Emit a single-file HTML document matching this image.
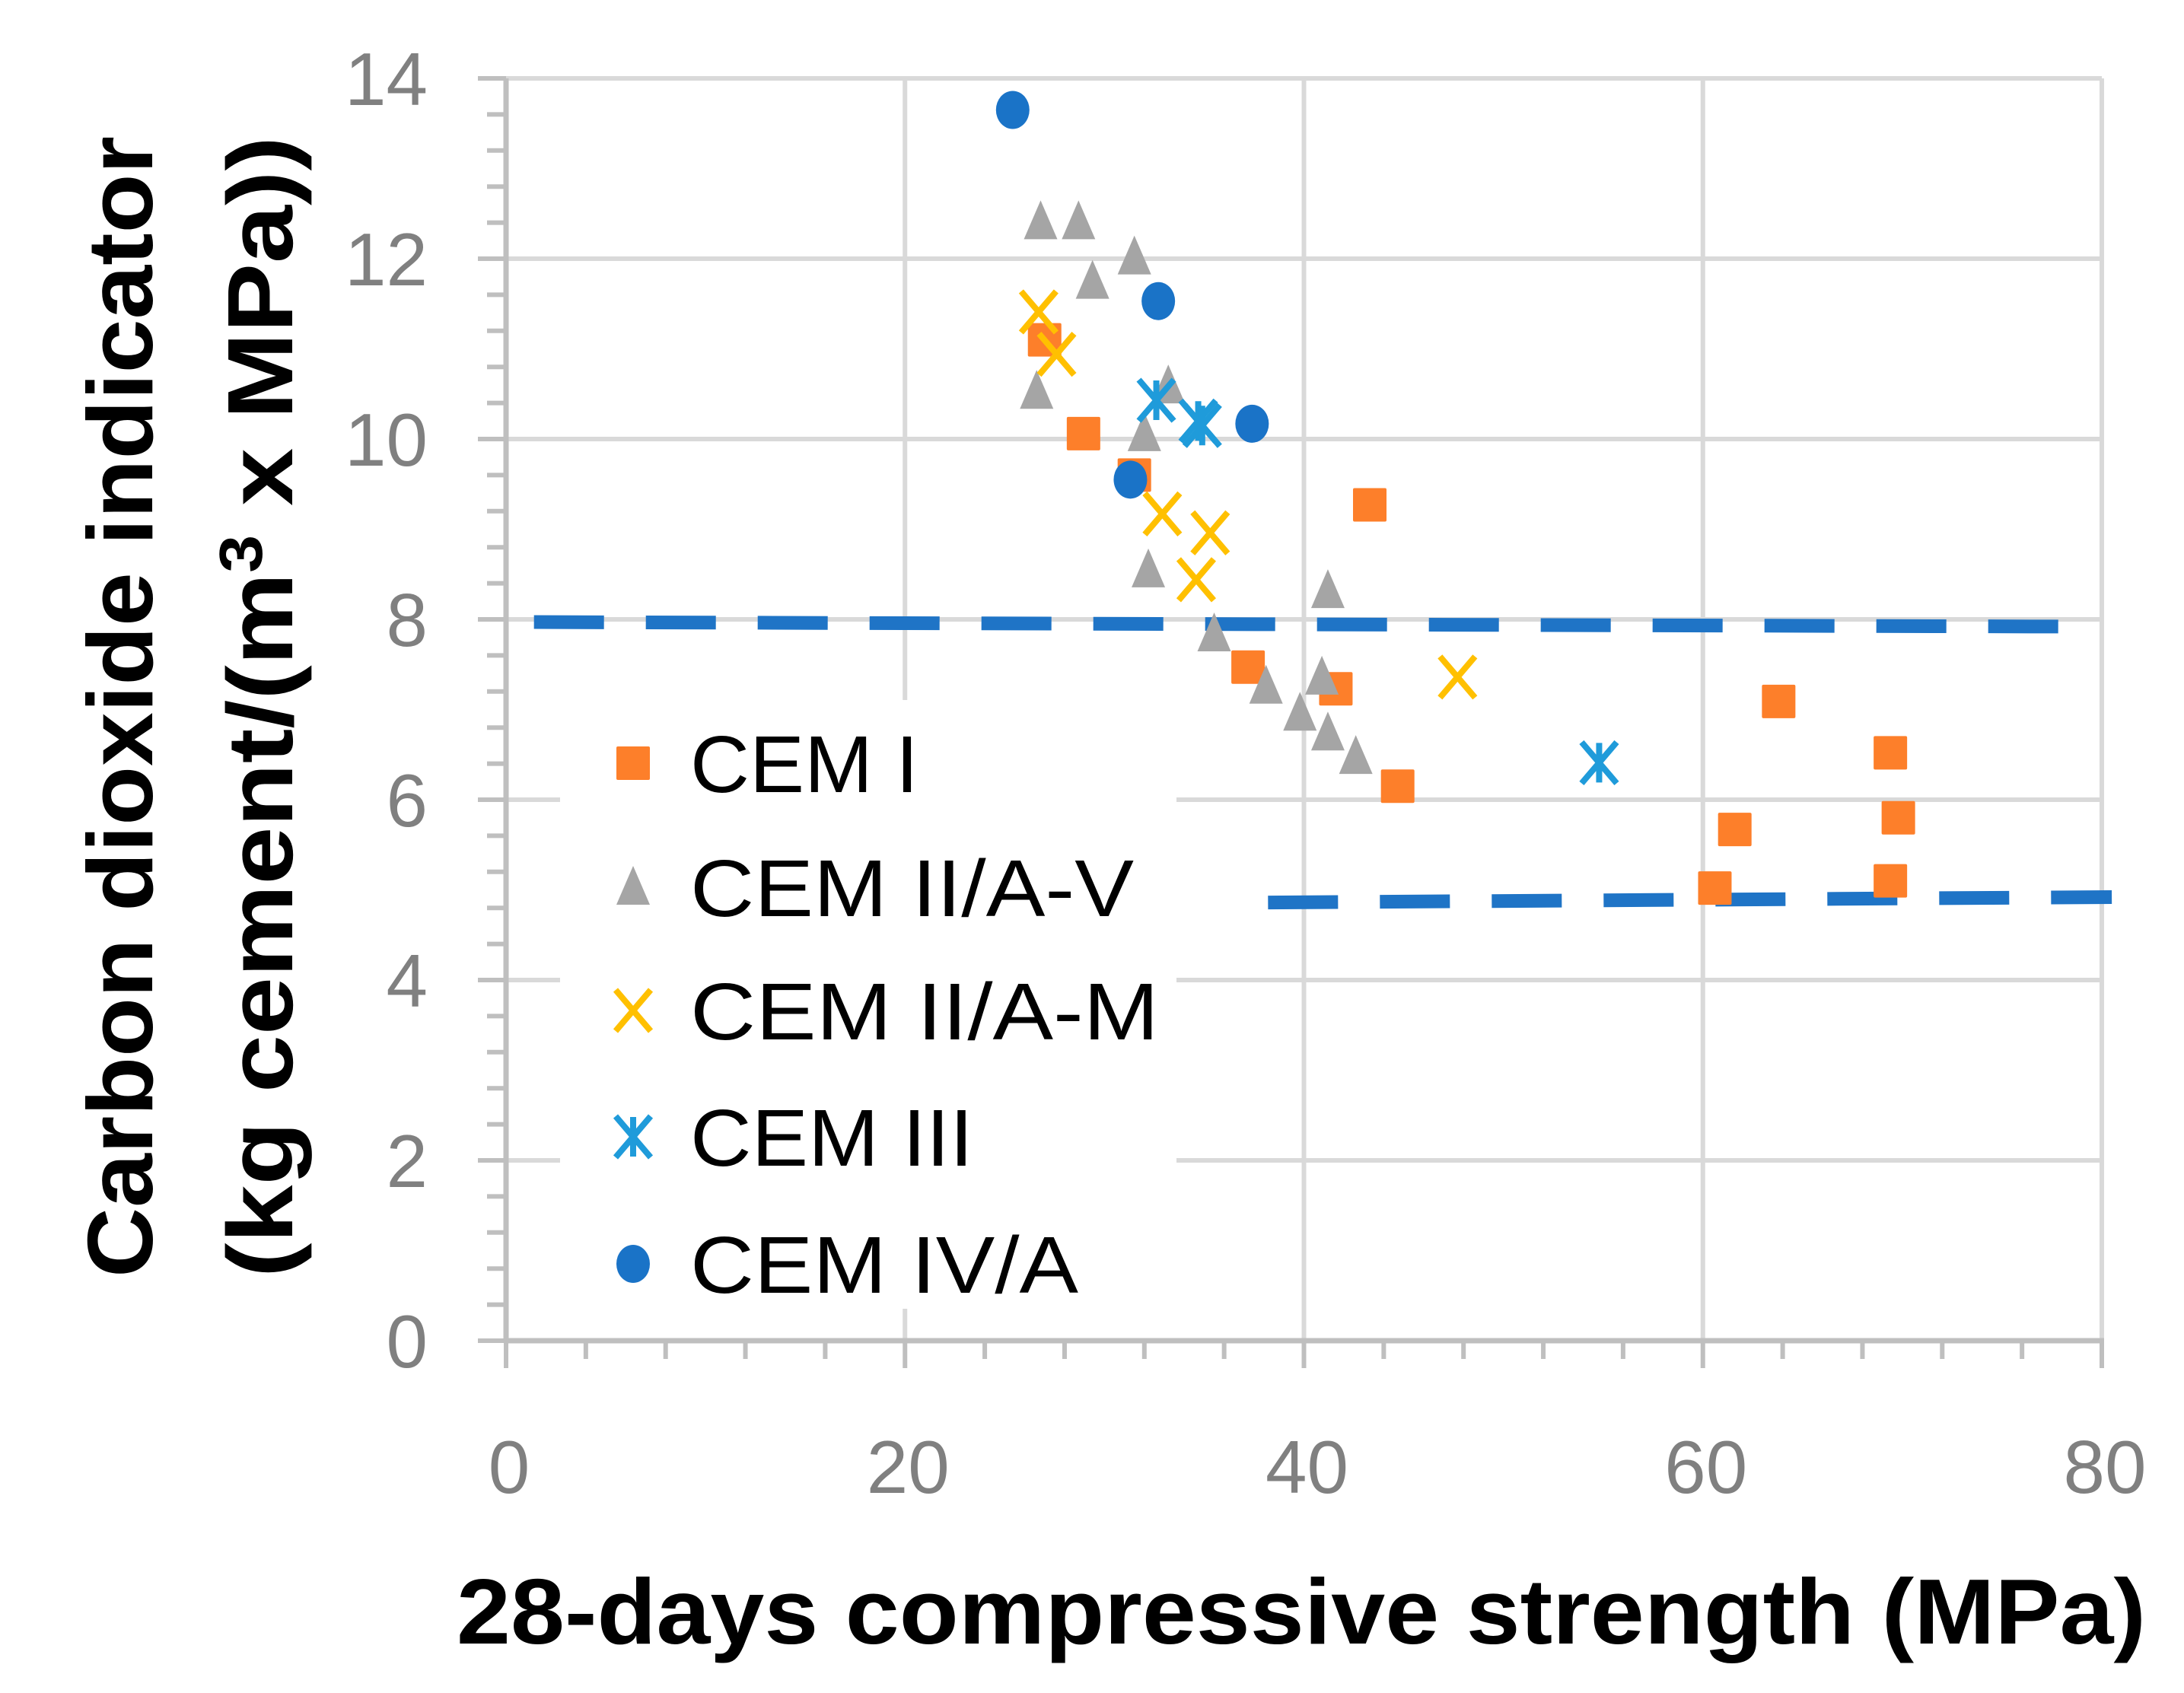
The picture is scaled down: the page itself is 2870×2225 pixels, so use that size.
<!DOCTYPE html>
<html><head><meta charset="utf-8"><style>
html,body{margin:0;padding:0;background:#fff;}
svg{display:block;}
text{font-family:"Liberation Sans",sans-serif;}
</style></head><body>
<svg id="chart" width="2870" height="2225" viewBox="0 0 2870 2225" xmlns="http://www.w3.org/2000/svg">
<g id="grid"></g>
<g id="axes"></g>
<g id="refs"></g>
<g id="legendbg"></g>
<g id="marks"></g>
<g id="legend"></g>
<text transform="translate(200,929) rotate(-90)" text-anchor="middle" font-weight="bold" font-size="122" textLength="1500" lengthAdjust="spacingAndGlyphs">Carbon dioxide indicator</text>
<text transform="translate(384,929) rotate(-90)" text-anchor="middle" font-weight="bold" font-size="122" textLength="1500" lengthAdjust="spacingAndGlyphs">(kg cement/(m<tspan font-size="80" dy="-40">3</tspan><tspan dy="40"> x MPa))</tspan></text>
<text x="1710" y="2160" text-anchor="middle" font-weight="bold" font-size="122" textLength="2220" lengthAdjust="spacingAndGlyphs">28-days compressive strength (MPa)</text>
</svg>
<script>
const xTicks = [0, 20, 40, 60, 80];
const yTicks = [0, 2, 4, 6, 8, 10, 12, 14];
const xTickLabels = ["0", "20", "40", "60", "80"];
const yTickLabels = ["0", "2", "4", "6", "8", "10", "12", "14"];

const cem1X = [27.0, 28.95, 31.5, 43.3, 37.2, 41.6, 44.7, 60.6, 61.6, 63.8, 69.4, 69.8, 69.4];
const cem1Y = [11.1, 10.06, 9.6, 9.27, 7.47, 7.23, 6.15, 5.02, 5.67, 7.09, 6.52, 5.8, 5.1];
const cem2vX = [26.8, 28.7, 31.5, 29.4, 26.6, 33.2, 32.0, 32.2, 41.2, 35.5, 38.1, 40.9, 39.8, 41.2, 42.6];
const cem2vY = [12.41, 12.41, 12.02, 11.75, 10.53, 10.59, 10.06, 8.55, 8.32, 7.84, 7.26, 7.36, 6.96, 6.74, 6.48];
const cem2mX = [26.7, 27.6, 32.9, 34.6, 35.3, 47.7];
const cem2mY = [11.41, 10.94, 9.17, 8.44, 8.96, 7.36];
const cem3X = [32.6, 34.7, 34.9, 54.8];
const cem3Y = [10.43, 10.2, 10.15, 6.41];
const cem4X = [25.4, 32.7, 37.4, 31.3];
const cem4Y = [13.65, 11.53, 10.17, 9.55];

const refUpperX = [1.4, 78.4];
const refUpperY = [7.97, 7.92];
const refLowerX = [38.2, 80.5];
const refLowerY = [4.86, 4.92];

const legendLabels = ["CEM I", "CEM II/A-V", "CEM II/A-M", "CEM III", "CEM IV/A"];

const NS = "http://www.w3.org/2000/svg";
const X0 = 665, X1 = 2762, Y0 = 1762, Y1 = 103;
function sx(v){ return X0 + (v - 0) / 80 * (X1 - X0); }
function sy(v){ return Y0 - (v - 0) / 14 * (Y0 - Y1); }
function mk(tag, attrs, parent){
  const e = document.createElementNS(NS, tag);
  for (const k in attrs) e.setAttribute(k, attrs[k]);
  parent.appendChild(e);
  return e;
}
const grid = document.getElementById('grid');
const axes = document.getElementById('axes');

yTicks.forEach((t, i) => {
  if (t === 0) return;
  const l = mk('line', {x1: X0, x2: X1, y1: sy(t), y2: sy(t), stroke: '#d9d9d9', 'stroke-width': 6}, grid);
  
  
});
xTicks.forEach((t) => {
  if (t === 0) return;
  const l = mk('line', {x1: sx(t), x2: sx(t), y1: Y1, y2: Y0, stroke: '#d9d9d9', 'stroke-width': 6}, grid);
  
  
});
const ya = mk('line', {x1: X0, x2: X0, y1: Y1, y2: Y0 + 3, stroke: '#bfbfbf', 'stroke-width': 7}, axes);


const xa = mk('line', {x1: X0, x2: X1 + 3, y1: Y0, y2: Y0, stroke: '#bfbfbf', 'stroke-width': 7}, axes);


for (let v = 0; v <= 14.001; v += 0.4) {
  const major = Math.abs(v / 2 - Math.round(v / 2)) < 0.01;
  const t = mk('line', {x1: major ? 628 : 640, x2: X0, y1: sy(v), y2: sy(v), stroke: '#bfbfbf', 'stroke-width': 6}, axes);
  
  
}
for (let v = 0; v <= 80.001; v += 4) {
  const major = v % 20 === 0;
  const t = mk('line', {x1: sx(v), x2: sx(v), y1: Y0, y2: major ? 1798 : 1786, stroke: '#bfbfbf', 'stroke-width': 6}, axes);
  
  
}
yTicks.forEach((t, i) => {
  const tx = mk('text', {x: 562, y: sy(t) + 35, 'text-anchor': 'end', 'font-size': 98, fill: '#808080'}, axes);
  tx.textContent = yTickLabels[i];
  
  
});
xTicks.forEach((t, i) => {
  const tx = mk('text', {x: sx(t) + 4, y: 1962, 'text-anchor': 'middle', 'font-size': 98, fill: '#808080'}, axes);
  tx.textContent = xTickLabels[i];
  
  
});
const refs = document.getElementById('refs');
const r1 = mk('line', {x1: sx(refUpperX[0]), y1: sy(refUpperY[0]), x2: sx(refUpperX[1]), y2: sy(refUpperY[1]), stroke: '#1f74c6', 'stroke-width': 18, 'stroke-dasharray': '92 55'}, refs);


const r2 = mk('line', {x1: sx(refLowerX[0]), y1: sy(refLowerY[0]), x2: sx(refLowerX[1]), y2: sy(refLowerY[1]), stroke: '#1f74c6', 'stroke-width': 18, 'stroke-dasharray': '92 55'}, refs);


const lb = mk('rect', {x: 736, y: 920, width: 810, height: 800, fill: '#fff'}, document.getElementById('legendbg'));



function square(g, cx, cy){ return mk('rect', {x: cx - 22, y: cy - 22, width: 44, height: 44, rx: 2, fill: '#fd7f2a'}, g); }
function tri(g, cx, cy){ return mk('polygon', {points: `${cx},${cy - 28} ${cx + 22},${cy + 23} ${cx - 22},${cy + 23}`, fill: '#a5a5a5'}, g); }
function cross(g, cx, cy){ return mk('path', {d: `M${cx - 23},${cy - 27}L${cx + 23},${cy + 27}M${cx + 23},${cy - 27}L${cx - 23},${cy + 27}`, stroke: '#ffc000', 'stroke-width': 8, fill: 'none'}, g); }
function star(g, cx, cy){ return mk('path', {d: `M${cx - 23},${cy - 27}L${cx + 23},${cy + 27}M${cx + 23},${cy - 27}L${cx - 23},${cy + 27}M${cx},${cy - 26}L${cx},${cy + 26}`, stroke: '#1f9bda', 'stroke-width': 8, fill: 'none'}, g); }
function dot(g, cx, cy){ return mk('ellipse', {cx: cx, cy: cy, rx: 22, ry: 25, fill: '#1a73c7'}, g); }

const marks = document.getElementById('marks');
const series = [
  {xs: cem1X, ys: cem1Y, f: square, name: 'cem-i-point'},
  {xs: cem2vX, ys: cem2vY, f: tri, name: 'cem-ii-a-v-point'},
  {xs: cem2mX, ys: cem2mY, f: cross, name: 'cem-ii-a-m-point'},
  {xs: cem3X, ys: cem3Y, f: star, name: 'cem-iii-point'},
  {xs: cem4X, ys: cem4Y, f: dot, name: 'cem-iv-a-point'}
];
series.forEach(s => {
  s.xs.forEach((xv, i) => {
    const e = s.f(marks, sx(xv), sy(s.ys[i]));
    
    
  });
});
const lg = document.getElementById('legend');
const rowsY = [1003, 1166, 1328, 1494, 1661];
const labelWidths = [300, 583, 616, 372, 510];
legendLabels.forEach((lab, i) => {
  const m = series[i].f(lg, 832, rowsY[i]);
  
  
  const t = mk('text', {x: 907, y: rowsY[i] + 38, 'font-size': 106, fill: '#000', textLength: labelWidths[i], lengthAdjust: 'spacingAndGlyphs'}, lg);
  t.textContent = lab;
  
  
});
</script>
</body></html>
